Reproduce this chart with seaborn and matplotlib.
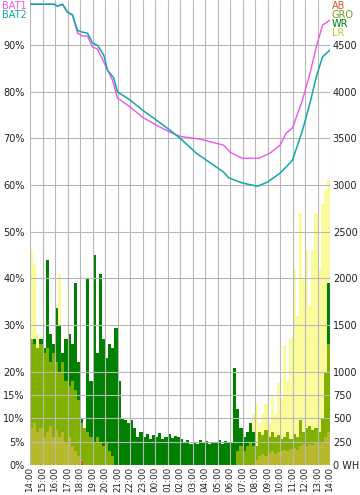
import numpy as np
import pandas as pd
import matplotlib
matplotlib.use("Agg")
import matplotlib.pyplot as plt
import seaborn as sns

# battery state of charge (%), hours after 14:00
bat_hours = [0, 1.9, 2.2, 2.6, 3.0, 3.4, 3.8, 4.2, 4.6, 5.0, 5.4, 5.9, 6.2, 6.7, 7.0,
             8, 9, 10.1, 11.2, 12, 13.3, 14.7, 15.5, 15.9, 17, 18.2, 19, 20,
             20.8, 21, 21.8, 22.4, 22.9, 23.4, 24]
bat2 = [98.7, 98.7, 98.3, 98.7, 97.0, 96.4, 93.1, 92.7, 92.5, 90.4, 89.9, 87.8, 84.6,
        82.9, 79.9, 78.2, 76.0, 73.9, 71.7, 70.0, 66.8, 64.2, 62.7, 61.5, 60.4, 59.7,
        60.6, 62.5, 64.7, 65.3, 71.7, 77.5, 83.1, 87.4, 88.9]
bat1_hours = [0, 1.9, 2.2, 2.6, 3.0, 3.4, 3.8, 4.2, 4.6, 5.0, 5.4, 5.9, 6.6, 7.0,
              8, 9, 10.1, 11.2, 12, 13.6, 15.5, 16, 17, 18.3, 19.2, 20, 20.5, 21,
              21.8, 22.4, 22.9, 23.4, 24]
bat1 = [98.7, 98.7, 98.3, 98.7, 97.0, 96.4, 92.5, 91.9, 91.9, 89.5, 89.1, 86.3, 82.4,
        78.6, 76.7, 74.5, 72.8, 71.3, 70.4, 69.8, 68.5, 67.0, 65.7, 65.7, 66.8, 68.5,
        71.1, 72.2, 78.2, 83.9, 89.5, 94.2, 95.3]

# energy per 15 min slot (WH), 96 slots from 14:00
wr = [1250, 1350, 1200, 1350, 1250, 2200, 1400, 1300, 1680, 1500, 1200, 1350, 1400, 1300, 1950, 1100,
      500, 350, 2000, 900, 2250, 1200, 2050, 1350, 1150, 1300, 1250, 1470, 900, 500, 480, 450,
      480, 400, 300, 350, 300, 330, 280, 320, 300, 340, 280, 300, 330, 290, 310, 300,
      280, 250, 270, 230, 250, 220, 270, 240, 260, 230, 250, 240, 270, 230, 260, 240,
      250, 1040, 600, 400, 300, 350, 450, 350, 0, 0, 0, 0, 0, 0, 0, 0,
      0, 0, 0, 0, 0, 0, 0, 0, 0, 0, 0, 0, 0, 0, 0, 1950]
gro = [1350, 1300, 1250, 1300, 1200, 1250, 1100, 1200, 1100, 1000, 1100, 900, 850, 900, 800, 700,
       450, 400, 350, 300, 250, 300, 250, 200, 250, 150, 100, 0, 0, 0, 0, 0,
       0, 0, 0, 0, 0, 0, 0, 0, 0, 0, 0, 0, 0, 0, 0, 0,
       0, 0, 0, 0, 0, 0, 0, 0, 0, 0, 0, 0, 0, 0, 0, 0,
       0, 0, 150, 200, 150, 200, 250, 200, 200, 350, 320, 380, 300, 350, 300, 320,
       280, 300, 350, 280, 330, 300, 480, 350, 400, 420, 380, 400, 350, 500, 1000, 1300]
base = [400, 450, 350, 400, 300, 350, 420, 300, 380, 300, 350, 250, 300, 200, 150, 100,
        50, 0, 0, 0, 0, 0, 0, 0, 0, 0, 0, 0, 0, 0, 0, 0,
        0, 0, 0, 0, 0, 0, 0, 0, 0, 0, 0, 0, 0, 0, 0, 0,
        0, 0, 0, 0, 0, 0, 0, 0, 0, 0, 0, 0, 0, 0, 0, 0,
        0, 0, 0, 0, 0, 0, 0, 0, 50, 100, 120, 100, 130, 150, 120, 140,
        150, 160, 150, 170, 180, 160, 200, 220, 200, 230, 210, 240, 220, 250, 300, 350]
lr = [2300, 2150, 1400, 1350, 1200, 1000, 1100, 1000, 1200, 2050, 1000, 800, 700, 600, 500, 500,
      450, 300, 0, 0, 0, 0, 0, 0, 0, 0, 0, 0, 0, 0, 0, 0,
      0, 0, 0, 0, 0, 0, 0, 0, 0, 0, 0, 0, 0, 0, 0, 0,
      0, 0, 0, 0, 0, 0, 0, 0, 0, 0, 0, 0, 0, 0, 0, 0,
      0, 0, 0, 0, 0, 300, 400, 550, 650, 450, 550, 650, 450, 750, 550, 880,
      700, 1280, 900, 1350, 2100, 1600, 2700, 2000, 2300, 1700, 2300, 2700, 2100, 2800, 2950, 3050]
ab = [0, 0, 0, 0, 0, 0, 0, 0, 0, 0, 0, 0, 0, 0, 0, 0,
      40, 0, 0, 0, 0, 0, 0, 0, 0, 0, 0, 0, 0, 0, 0, 0,
      0, 0, 0, 0, 0, 0, 0, 0, 0, 0, 0, 0, 0, 0, 0, 0,
      0, 0, 0, 0, 0, 0, 0, 0, 0, 0, 0, 0, 0, 0, 0, 0,
      0, 0, 0, 0, 0, 0, 0, 0, 0, 0, 0, 0, 0, 0, 0, 0,
      0, 0, 0, 0, 0, 0, 0, 0, 0, 0, 0, 0, 0, 0, 0, 0]

hour_labels = ["14:00", "15:00", "16:00", "17:00", "18:00", "19:00", "20:00", "21:00",
               "22:00", "23:00", "00:00", "01:00", "02:00", "03:00", "04:00", "05:00",
               "06:00", "07:00", "08:00", "09:00", "10:00", "11:00", "12:00", "13:00", "14:00"]
pct_ticks = [0, 5, 10, 15, 20, 30, 40, 50, 60, 70, 80, 90]
wh_ticks = [0, 250, 500, 750, 1000, 1500, 2000, 2500, 3000, 3500, 4000, 4500]

sns.set_style("white")
plt.rcParams["font.family"] = ["DejaVu Sans"]

fig = plt.figure(figsize=(3.6, 4.95), dpi=100)
ax = fig.add_axes([30 / 360, 30 / 495, 300 / 360, 465 / 495])
ax2 = ax.twinx()
ax.set_zorder(ax2.get_zorder() + 1)
ax.patch.set_visible(False)

# energy layers (right axis)
edges = np.arange(97) / 4
layers = [(lr, "#fbfb9c"), (wr, "#008000"), (gro, "#80b000"), (base, "#b8b82c"), (ab, "#e05020")]
for vals, col in layers:
    ax2.fill_between(edges, vals + [vals[-1]], step="post", color=col, lw=0)

# battery lines (left axis)
df1 = pd.DataFrame({"h": bat1_hours, "v": bat1})
df2 = pd.DataFrame({"h": bat_hours, "v": bat2})
sns.lineplot(data=df1, x="h", y="v", ax=ax, color="#ee55ee", lw=1.0, estimator=None, sort=False)
sns.lineplot(data=df2, x="h", y="v", ax=ax, color="#10a8a8", lw=1.1, estimator=None, sort=False)

ax.set_xlim(0, 24)
ax.set_ylim(0, 99.6)
ax2.set_ylim(0, 4980)
ax.set_xticks(range(25))
ax.set_xticklabels(hour_labels, rotation=90, fontsize=6.3)
ax.set_yticks(pct_ticks)
ax.set_yticklabels([f"{p}%" for p in pct_ticks], fontsize=7)
ax2.set_yticks(wh_ticks)
ax2.set_yticklabels(["0 WH"] + [str(w) for w in wh_ticks[1:]], fontsize=7)
ax.set_xlabel("")
ax.set_ylabel("")
ax.grid(True, color="#b8b8b8", lw=0.8)
ax2.grid(False)
ax.tick_params(length=0, pad=4, colors="#222222")
ax.tick_params(axis="x", pad=1.5)
ax2.tick_params(length=0, pad=2, colors="#222222")
for a in (ax, ax2):
    for s in a.spines.values():
        s.set_visible(False)

# legend labels
fig.text(2 / 360, 1 - 1 / 495, "BAT1", color="#ee55ee", fontsize=7, va="top")
fig.text(2 / 360, 1 - 10 / 495, "BAT2", color="#10a8a8", fontsize=7, va="top")
for i, (lab, col) in enumerate([("AB", "#e05030"), ("GRO", "#70a020"), ("WR", "#008000"), ("LR", "#c8c83c")]):
    fig.text(332 / 360, 1 - (1 + 9 * i) / 495, lab, color=col, fontsize=7, va="top")

fig.savefig("out.png", dpi=100)
